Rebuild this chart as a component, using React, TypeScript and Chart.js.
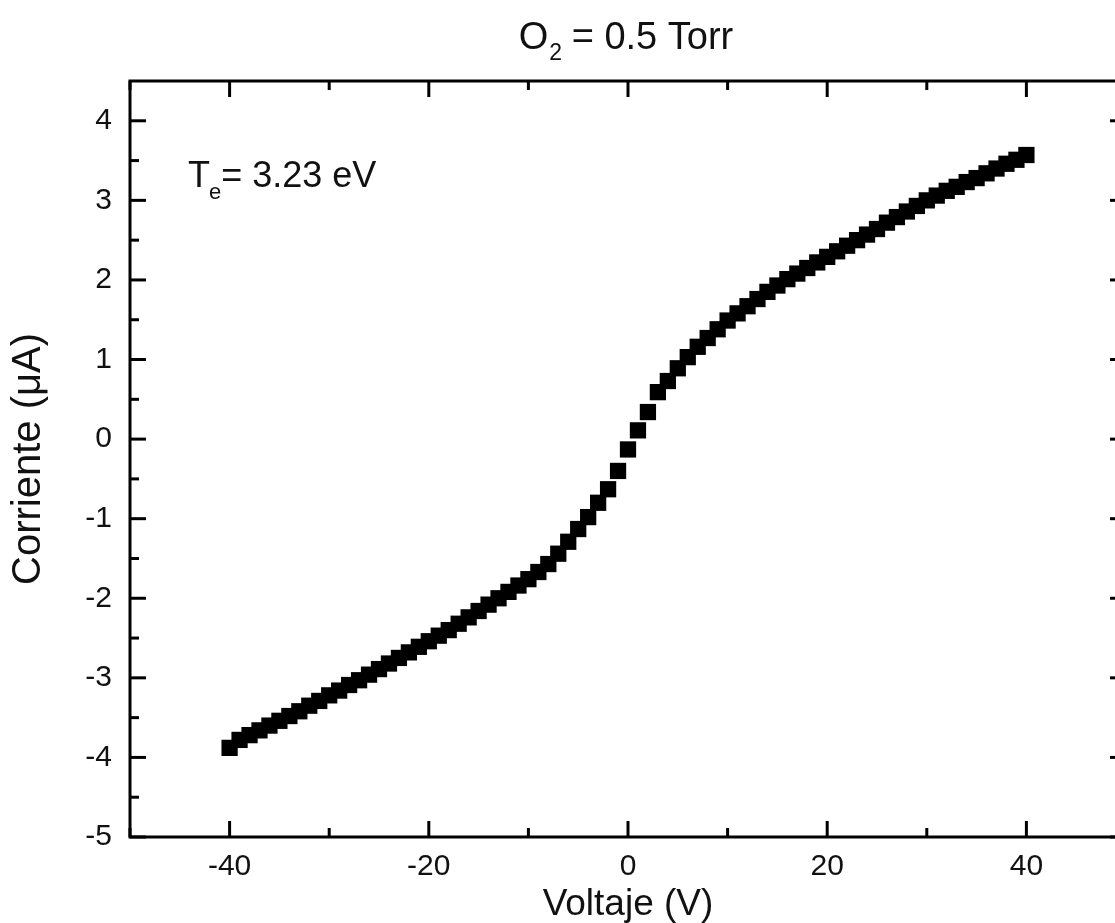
import React, { useEffect, useRef } from "react";
import { Chart, registerables } from "chart.js";

Chart.register(...registerables);

const voltage = [
  -40, -39, -38, -37, -36, -35, -34, -33, -32, -31, -30, -29, -28, -27, -26, -25, -24, -23, -22, -21,
  -20, -19, -18, -17, -16, -15, -14, -13, -12, -11, -10, -9, -8, -7, -6, -5, -4, -3, -2, -1,
  0, 1, 2, 3, 4, 5, 6, 7, 8, 9, 10, 11, 12, 13, 14, 15, 16, 17, 18, 19,
  20, 21, 22, 23, 24, 25, 26, 27, 28, 29, 30, 31, 32, 33, 34, 35, 36, 37, 38, 39, 40,
];

const current = [
  -3.88, -3.78, -3.72, -3.66, -3.6, -3.54, -3.48, -3.42, -3.35, -3.29, -3.22, -3.16, -3.09, -3.03, -2.96, -2.89, -2.82, -2.75, -2.68, -2.61,
  -2.54, -2.47, -2.4, -2.32, -2.24, -2.16, -2.08, -2.0, -1.92, -1.84, -1.76, -1.67, -1.57, -1.44, -1.29, -1.13, -0.98, -0.8, -0.63, -0.4,
  -0.13, 0.11, 0.34, 0.59, 0.73, 0.89, 1.03, 1.16, 1.27, 1.38, 1.49, 1.58, 1.67, 1.76, 1.85, 1.93, 2.01, 2.08, 2.15, 2.22,
  2.29, 2.36, 2.43, 2.5, 2.57, 2.64, 2.72, 2.79, 2.86, 2.93, 3.0, 3.06, 3.12, 3.17, 3.23, 3.28, 3.34, 3.4, 3.46, 3.51, 3.57,
];

const xMajorTicks = [-40, -20, 0, 20, 40];
const xMinorTicks = [-50, -30, -10, 10, 30, 50];
const yMajorTicks = [-5, -4, -3, -2, -1, 0, 1, 2, 3, 4];
const yMinorTicks = [-4.5, -3.5, -2.5, -1.5, -0.5, 0.5, 1.5, 2.5, 3.5];

const X_MIN = -50;
const X_MAX = 50;
const Y_MIN = -5;
const Y_MAX = 4.5;

const titleMain = "O";
const titleSub = "2";
const titleRest = " = 0.5 Torr";
const teMain = "T";
const teSub = "e";
const teRest = "= 3.23 eV";

const FONT = "'Liberation Sans', Arial, sans-serif";

const CW = 1140;
const CH = 923;

const framePlugin = {
  id: "framePlugin",
  afterDraw(chart: any) {
    const { ctx, chartArea } = chart;
    const { left, right, top, bottom } = chartArea;
    const xs = chart.scales.x;
    const ys = chart.scales.y;
    ctx.save();
    ctx.strokeStyle = "#000";
    ctx.lineWidth = 3;
    ctx.strokeRect(left, top, right - left, bottom - top);
    ctx.lineCap = "butt";
    const tick = (x1: number, y1: number, x2: number, y2: number) => {
      ctx.beginPath();
      ctx.moveTo(x1, y1);
      ctx.lineTo(x2, y2);
      ctx.stroke();
    };
    const MAJ = 16;
    const MIN = 9;
    xMajorTicks.forEach((v) => {
      const p = xs.getPixelForValue(v);
      tick(p, bottom, p, bottom - MAJ);
      tick(p, top, p, top + MAJ);
    });
    xMinorTicks.forEach((v) => {
      const p = xs.getPixelForValue(v);
      tick(p, bottom, p, bottom - MIN);
      tick(p, top, p, top + MIN);
    });
    yMajorTicks.forEach((v) => {
      const p = ys.getPixelForValue(v);
      tick(left, p, left + MAJ, p);
      tick(right, p, right - MAJ, p);
    });
    yMinorTicks.forEach((v) => {
      const p = ys.getPixelForValue(v);
      tick(left, p, left + MIN, p);
      tick(right, p, right - MIN, p);
    });

    // Title
    ctx.fillStyle = "#111";
    ctx.textBaseline = "alphabetic";
    ctx.textAlign = "left";
    const bigT = `38px ${FONT}`;
    const smallT = `23px ${FONT}`;
    ctx.font = bigT;
    const w1 = ctx.measureText(titleMain).width;
    const w3 = ctx.measureText(titleRest).width;
    ctx.font = smallT;
    const w2 = ctx.measureText(titleSub).width;
    const total = w1 + w2 + w3;
    let tx = 626 - total / 2;
    const tBase = 49;
    ctx.font = bigT;
    ctx.fillText(titleMain, tx, tBase);
    tx += w1;
    ctx.font = smallT;
    ctx.fillText(titleSub, tx + 1, tBase + 11);
    tx += w2;
    ctx.font = bigT;
    ctx.fillText(titleRest, tx, tBase);

    // Te annotation
    let ex = 188;
    const eBase = 187;
    ctx.font = `36px ${FONT}`;
    ctx.fillText(teMain, ex, eBase);
    ex += ctx.measureText(teMain).width;
    ctx.font = `22px ${FONT}`;
    ctx.fillText(teSub, ex - 1, eBase + 12);
    ex += ctx.measureText(teSub).width;
    ctx.font = `36px ${FONT}`;
    ctx.fillText(teRest, ex - 1, eBase);
    ctx.restore();
  },
};

export default function App() {
  const ref = useRef<HTMLCanvasElement | null>(null);
  useEffect(() => {
    if (!ref.current) return;
    const chart = new Chart(ref.current, {
      type: "scatter",
      data: {
        datasets: [
          {
            data: voltage.map((v, i) => ({ x: v, y: current[i] })),
            pointStyle: "rect",
            pointRadius: 11.5,
            pointBorderWidth: 0,
            backgroundColor: "#000",
            borderColor: "#000",
            showLine: false,
          },
        ],
      },
      options: {
        responsive: false,
        animation: false,
        devicePixelRatio: 1,
        layout: { padding: { left: 0, top: 81, right: CW - 1126, bottom: 0 } },
        plugins: {
          legend: { display: false },
          title: { display: false },
          tooltip: { enabled: false },
        },
        scales: {
          x: {
            type: "linear",
            min: X_MIN,
            max: X_MAX,
            afterBuildTicks: (s: any) => {
              s.ticks = xMajorTicks.map((v) => ({ value: v }));
            },
            afterFit: (s: any) => {
              s.height = CH - 837;
            },
            grid: { display: false, drawTicks: false },
            border: { display: false },
            ticks: {
              padding: 12,
              color: "#111",
              font: { family: FONT, size: 30 },
              maxRotation: 0,
            },
            title: {
              display: true,
              text: "Voltaje (V)",
              color: "#111",
              font: { family: FONT, size: 37, lineHeight: 1 },
              padding: { top: 0, bottom: 0 },
            },
          },
          y: {
            type: "linear",
            min: Y_MIN,
            max: Y_MAX,
            afterBuildTicks: (s: any) => {
              s.ticks = yMajorTicks.map((v) => ({ value: v }));
            },
            afterFit: (s: any) => {
              s.width = 130;
            },
            grid: { display: false, drawTicks: false },
            border: { display: false },
            ticks: {
              padding: 18,
              color: "#111",
              font: { family: FONT, size: 30 },
            },
            title: {
              display: true,
              text: "Corriente (μA)",
              color: "#111",
              font: { family: FONT, size: 40, lineHeight: 1 },
              padding: { top: 9, bottom: 0 },
            },
          },
        },
      },
      plugins: [framePlugin],
    } as any);
    return () => chart.destroy();
  }, []);
  return (
    <div
      style={{
        position: "fixed",
        left: 0,
        top: 0,
        width: 1115,
        height: 923,
        overflow: "hidden",
        background: "#fff",
      }}
    >
      <canvas ref={ref} width={CW} height={CH} style={{ display: "block" }} />
    </div>
  );
}
